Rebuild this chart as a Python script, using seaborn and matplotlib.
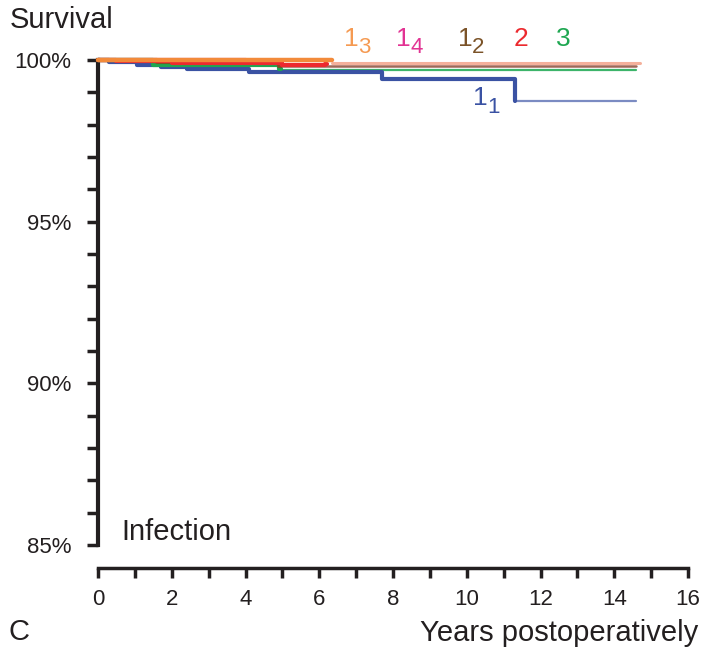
import matplotlib
matplotlib.use("Agg")
import matplotlib.pyplot as plt
import seaborn as sns
import pandas as pd

sns.set_style("white")
plt.rcParams['font.family'] = ['Liberation Sans', 'DejaVu Sans']
ink = "#231f20"
plt.rcParams['text.color'] = ink
plt.rcParams['xtick.color'] = ink
plt.rcParams['ytick.color'] = ink
plt.rcParams['axes.edgecolor'] = ink

# ---- data ----
# group 1_1 (blue)
t11 = [0, 0.3, 1.05, 1.7, 2.4, 4.1, 7.7, 11.3]
s11 = [100, 99.95, 99.85, 99.77, 99.71, 99.63, 99.40, 98.73]
t11_tail = [11.3, 14.6]
s11_tail = [98.73, 98.73]
# group 1_2 (brown)
t12 = [0, 1.6, 4.9]
s12 = [100, 99.95, 99.80]
t12_tail = [4.9, 14.6]
s12_tail = [99.80, 99.80]
# group 1_3 (orange)
t13 = [0, 6.35]
s13 = [99.99, 99.99]
t13_tail = [6.35, 14.7]
s13_tail = [99.92, 99.92]
# group 1_4 (pink)
t14 = [0, 4.0]
s14 = [100, 100]
# group 2 (red)
t2 = [0, 0.5, 2.0, 5.0, 6.15]
s2 = [100, 99.97, 99.90, 99.83, 99.87]
# group 3 (green)
t3 = [0, 1.5, 4.9]
s3 = [100, 99.85, 99.71]
t3_tail = [4.9, 14.6]
s3_tail = [99.70, 99.70]

y_ticks_major = [85, 90, 95, 100]
y_tick_labels = ["85%", "90%", "95%", "100%"]
x_ticks_major = [0, 2, 4, 6, 8, 10, 12, 14, 16]

c_blue, c_brown, c_orange, c_pink, c_red, c_green = \
    "#3a52a3", "#7b5328", "#f28a3a", "#e23393", "#ec2a2f", "#1ea751"

fig = plt.figure(figsize=(7.03, 6.5), dpi=100)
ax = fig.add_axes([98/703, 1-545/650, 590/703, 485/650])


def step(t, s, color, lw, z, extend=None):
    tt = list(t)
    ss = list(s)
    if extend is not None:
        tt.append(extend)
        ss.append(ss[-1])
    df = pd.DataFrame({"t": tt, "s": ss})
    sns.lineplot(data=df, x="t", y="s", ax=ax, color=color, linewidth=lw,
                 drawstyle="steps-post", estimator=None, sort=False,
                 zorder=z, clip_on=False)


# thin tails
step(t11_tail, s11_tail, "#7b8bc2", 1.6, 2)
step(t3_tail, s3_tail, "#3cb46a", 1.6, 2.1)
step(t12_tail, s12_tail, "#a06858", 1.8, 2.2)
step(t13_tail, s13_tail, "#f4b09b", 2.2, 2.3)
# thick parts
step(t14, s14, c_pink, 3, 3)
step(t11, s11, c_blue, 3, 3.1, extend=11.3)
step(t3, s3, c_green, 3, 3.2, extend=4.95)
step(t12, s12, c_brown, 3, 3.3, extend=4.95)
step(t2, s2, c_red, 3, 3.4, extend=6.2)
step(t13, s13, c_orange, 3.2, 3.5, extend=6.35)

ax.set_xlim(0, 16)
ax.set_ylim(85, 100)
ax.set_xlabel("")
ax.set_ylabel("")

for sp in ["top", "right"]:
    ax.spines[sp].set_visible(False)
ax.spines["left"].set_linewidth(3)
ax.spines["left"].set_bounds(85, 100)
ax.spines["bottom"].set_linewidth(2.5)
ax.spines["bottom"].set_position(("outward", 16.5))

ax.set_yticks(y_ticks_major)
ax.set_yticklabels(y_tick_labels)
ax.set_yticks(list(range(85, 101)), minor=True)
ax.tick_params(axis="y", which="both", left=True, direction="out", length=8,
               width=2.5, labelsize=16, pad=11, color=ink)
ax.set_xticks(x_ticks_major)
ax.set_xticks(list(range(0, 17)), minor=True)
ax.tick_params(axis="x", which="both", bottom=True, direction="out", length=7,
               width=2.5, labelsize=16, pad=8, color=ink)

# group labels
lab = dict(fontsize=19, va="center", ha="left")
sub = dict(fontsize=16, va="center", ha="left")
ax.text(6.66, 100.66, "1", color="#f59a52", clip_on=False, **lab)
ax.text(7.05, 100.38, "3", color="#f59a52", clip_on=False, **sub)
ax.text(8.07, 100.66, "1", color=c_pink, clip_on=False, **lab)
ax.text(8.47, 100.38, "4", color=c_pink, clip_on=False, **sub)
ax.text(9.75, 100.66, "1", color=c_brown, clip_on=False, **lab)
ax.text(10.15, 100.38, "2", color=c_brown, clip_on=False, **sub)
ax.text(11.27, 100.66, "2", color=c_red, clip_on=False, **lab)
ax.text(12.43, 100.66, "3", color=c_green, clip_on=False, **lab)
ax.text(10.16, 98.84, "1", color=c_blue, **lab)
ax.text(10.55, 98.54, "1", color=c_blue, **sub)

fig.text(10/703, 1-20/650, "Survival", fontsize=21, va="center", ha="left")
ax.text(0.63, 85.4, "Infection", fontsize=21, va="center", ha="left")
fig.text(9/703, 1-632/650, "C", fontsize=21, va="center", ha="left")
fig.text(698/703, 1-633/650, "Years postoperatively", fontsize=21,
         va="center", ha="right")

fig.savefig("out.png", dpi=100)
